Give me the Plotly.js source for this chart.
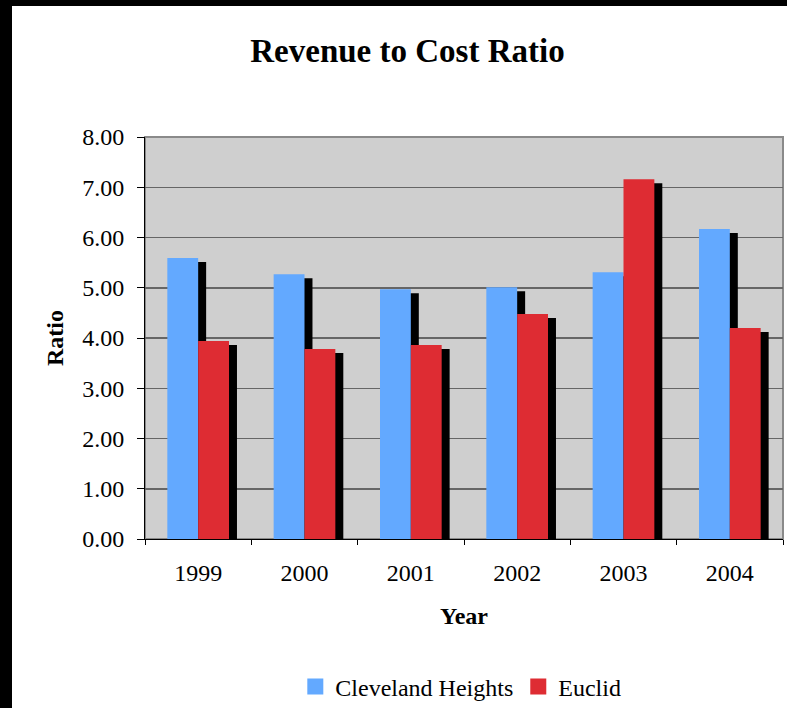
<!DOCTYPE html>
<html>
<head>
<meta charset="utf-8">
<script src="https://cdn.plot.ly/plotly-3.0.1.min.js"></script>
<style>
  html, body { margin: 0; padding: 0; background: #ffffff; }
  #frame { position: absolute; left: 0; top: 0; width: 775px; height: 702px;
           border-left: 12px solid #000; border-top: 6px solid #000; background: #fff; }
  #chart { width: 775px; height: 702px; }
</style>
</head>
<body>
<div id="frame"><div id="chart"></div></div>
<script>
// ---- data ----
const years = ['1999', '2000', '2001', '2002', '2003', '2004'];
const clevelandHeights = [5.59, 5.27, 4.97, 5.01, 5.31, 6.17];
const euclid = [3.94, 3.78, 3.86, 4.48, 7.16, 4.20];
const seriesNames = ['Cleveland Heights', 'Euclid'];
const yTicks = [0, 1, 2, 3, 4, 5, 6, 7, 8];

// ---- style ----
const FONT = "Liberation Serif, Times New Roman, serif";
const BLUE = '#63A9FF';
const RED = '#DE2C33';
const BAR_W = 0.29;
const SH_DX = 0.075;   // shadow shift (category units)
const SH_DY = -0.08;   // shadow drop (value units)

const common = { type: 'bar', x: years, width: BAR_W, showlegend: false, hoverinfo: 'skip',
                 marker: { line: { width: 0 } } };

const traces = [
  Object.assign({}, common, { y: clevelandHeights, base: SH_DY, offset: -BAR_W + SH_DX,
                 marker: { color: '#000', line: { width: 0 } } }),
  Object.assign({}, common, { y: euclid, base: SH_DY, offset: SH_DX,
                 marker: { color: '#000', line: { width: 0 } } }),
  Object.assign({}, common, { y: clevelandHeights, offset: -BAR_W, name: seriesNames[0],
                 marker: { color: BLUE, line: { width: 0 } } }),
  Object.assign({}, common, { y: euclid, offset: 0, name: seriesNames[1],
                 marker: { color: RED, line: { width: 0 } } }),
  // legend entries
  { type: 'scatter', mode: 'markers', x: [years[0]], y: [null], name: seriesNames[0],
    marker: { symbol: 'square', size: 16, color: BLUE }, hoverinfo: 'skip' },
  { type: 'scatter', mode: 'markers', x: [years[0]], y: [null], name: seriesNames[1],
    marker: { symbol: 'square', size: 16, color: RED }, hoverinfo: 'skip' }
];

const layout = {
  width: 775, height: 702,
  margin: { l: 133, r: 4, t: 131, b: 169 },
  paper_bgcolor: '#ffffff',
  plot_bgcolor: '#cfcfcf',
  barmode: 'overlay',
  font: { family: FONT, size: 24, color: '#000' },
  title: { text: '<b>Revenue to Cost Ratio</b>', font: { family: FONT, size: 33, color: '#000' },
           xref: 'container', x: 0.5103, xanchor: 'center',
           yref: 'container', y: 1 - 44 / 702, yanchor: 'middle' },
  xaxis: {
    type: 'category', tickson: 'boundaries', ticks: 'outside', ticklen: 5, tickcolor: '#000',
    showline: true, linecolor: '#000', linewidth: 1, showgrid: false,
    tickfont: { family: FONT, size: 24 }, ticklabelstandoff: 12,
    title: { text: '<b>Year</b>', font: { family: FONT, size: 24 }, standoff: 22 },
    fixedrange: true
  },
  yaxis: {
    range: [0, 8], tickvals: yTicks, tickformat: '.2f', ticks: 'outside', ticklen: 7, tickcolor: '#000',
    showline: true, linecolor: '#000', linewidth: 1,
    showgrid: true, gridcolor: '#666666', gridwidth: 1.5, zeroline: false,
    tickfont: { family: FONT, size: 24 }, ticklabelstandoff: 8,
    title: { text: '<b>Ratio</b>', font: { family: FONT, size: 24 }, standoff: 11 },
    fixedrange: true
  },
  shapes: [
    { type: 'rect', xref: 'paper', yref: 'paper', x0: 0, x1: 1, y0: 0, y1: 1,
      line: { color: '#8a8a8a', width: 2 }, layer: 'below' }
  ],
  showlegend: true,
  legend: {
    orientation: 'h', xref: 'paper', x: 0.495, xanchor: 'center',
    yref: 'container', y: 1 - 681 / 702, yanchor: 'middle',
    font: { family: FONT, size: 24, color: '#000' }, bgcolor: 'rgba(0,0,0,0)',
    itemwidth: 30, traceorder: 'normal'
  }
};

Plotly.newPlot('chart', traces, layout, { staticPlot: true, displayModeBar: false });
</script>
</body>
</html>
